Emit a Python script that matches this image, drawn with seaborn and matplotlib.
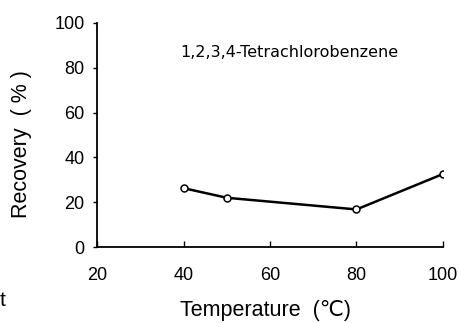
import matplotlib
matplotlib.use('Agg')
import matplotlib.pyplot as plt
import seaborn as sns
import pandas as pd

# data
temperature = [40, 50, 80, 100]
recovery = [26.3, 22.0, 16.8, 32.6]
x_ticks = [20, 40, 60, 80, 100]
y_ticks = [0, 20, 40, 60, 80, 100]
compound = '1,2,3,4-Tetrachlorobenzene'

sns.set_style('ticks')
plt.rcParams['font.family'] = ['Liberation Sans', 'DejaVu Sans']
plt.rcParams['text.color'] = 'black'
plt.rcParams['axes.labelcolor'] = 'black'
plt.rcParams['xtick.color'] = 'black'
plt.rcParams['ytick.color'] = 'black'

df = pd.DataFrame({'temperature': temperature, 'recovery': recovery})

fig = plt.figure(figsize=(4.6, 3.23), dpi=100)
ax = fig.add_axes([0.211, 0.235, 0.752, 0.694])

sns.lineplot(data=df, x='temperature', y='recovery', ax=ax, color='black',
             linewidth=1.8, marker='o', markersize=5, markerfacecolor='white',
             markeredgecolor='black', markeredgewidth=1.1)

ax.set_xlim(20, 100)
ax.set_ylim(0, 100)
ax.set_xticks(x_ticks)
ax.set_yticks(y_ticks)
ax.tick_params(axis='x', direction='in', length=4, width=1, labelsize=13, pad=14)
ax.tick_params(axis='y', direction='out', length=3, width=1, labelsize=13, pad=6)
sns.despine(ax=ax)
for s in ['left', 'bottom']:
    ax.spines[s].set_linewidth(1.3)
    ax.spines[s].set_color('black')

ax.set_xlabel('Temperature  (\u2103)', fontsize=15.5)
ax.xaxis.label.set_va('center')
ax.xaxis.set_label_coords(0.488, -0.281)
ax.set_ylabel('Recovery  ( % )', fontsize=15.5)
ax.yaxis.label.set_va('center')
ax.yaxis.set_label_coords(-0.217, 0.46)
ax.text(39.2, 87, compound, fontsize=11.5, va='center', ha='left',
        family='DejaVu Sans')

# stray cropped character at lower left of the scan
fig.text(0.0, 0.07, 't', fontsize=15, ha='left', va='center')

fig.savefig('out.png', dpi=100)
